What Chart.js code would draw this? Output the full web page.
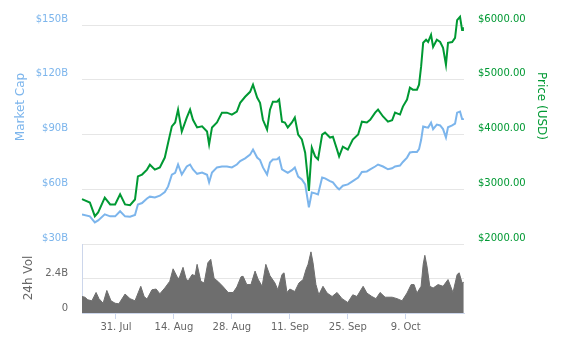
<!DOCTYPE html>
<html>
<head>
<meta charset="utf-8">
<script src="https://cdn.jsdelivr.net/npm/chart.js@4/dist/chart.umd.min.js"></script>
<style>
  html, body { margin: 0; padding: 0; background: #fff; }
  #wrap { width: 563px; height: 339px; position: relative; }
</style>
</head>
<body>
<div id="wrap"><canvas id="chart"></canvas></div>
<script>
// x values are days counted from 31 Jul
const tickDays = [0, 14, 28, 42, 56, 70];
const tickLabels = ['31. Jul', '14. Aug', '28. Aug', '11. Sep', '25. Sep', '9. Oct'];

// Price (USD) and market cap (billions) share these sample days
const lineDays = [
    -8.2, -6.3, -5.1, -4.3, -2.7, -1.4, -0.2, 1.0, 2.2, 3.4,
    4.6, 5.3, 6.3, 7.5, 8.2, 9.4, 10.6, 11.8, 12.6, 13.5,
    14.3, 15.0, 15.9, 17.1, 17.9, 18.6, 19.6, 20.8, 22.0, 22.5,
    23.2, 24.4, 25.6, 26.8, 28.0, 29.2, 30.0, 31.2, 32.4, 33.1,
    34.1, 34.8, 35.5, 36.5, 37.2, 37.9, 38.9, 39.4, 40.1, 40.8,
    41.5, 42.5, 43.2, 44.0, 44.9, 45.7, 46.4, 46.6, 47.3, 48.1,
    48.8, 49.8, 50.5, 51.7, 52.4, 53.4, 53.9, 54.8, 56.0, 57.2,
    58.5, 59.4, 60.6, 61.4, 62.6, 63.3, 64.5, 65.7, 66.7, 67.4,
    68.6, 69.3, 70.3, 71.0, 71.7, 72.7, 73.2, 73.7, 74.2, 74.9,
    75.4, 76.1, 76.6, 77.5, 78.3, 79.0, 79.7, 80.2, 81.2, 81.9,
    82.4, 83.1, 83.6, 83.8
];

const price = [
    2820, 2760, 2510, 2580, 2850, 2725, 2725, 2910, 2725, 2710,
    2815, 3235, 3270, 3360, 3450, 3360, 3400, 3580, 3850, 4150,
    4220, 4455, 4055, 4310, 4455, 4270, 4130, 4150, 4055, 3820,
    4130, 4220, 4400, 4400, 4365, 4420, 4580, 4690, 4780, 4910,
    4675, 4580, 4270, 4090, 4455, 4600, 4600, 4640, 4235, 4220,
    4130, 4220, 4310, 4000, 3910, 3670, 3150, 2970, 3760, 3600,
    3545, 4000, 4035, 3945, 3960, 3725, 3600, 3780, 3725, 3910,
    4000, 4235, 4220, 4270, 4400, 4455, 4330, 4235, 4260, 4400,
    4365, 4510, 4640, 4855, 4820, 4820, 4910, 5240, 5675, 5730,
    5690, 5820, 5600, 5730, 5690, 5585, 5275, 5675, 5690, 5765,
    6090, 6150, 5910, 5960
];

const marketCap = [
    46.3, 45.2, 41.9, 43.0, 46.3, 45.2, 45.2, 48.0, 45.2, 45.0,
    46.0, 51.7, 52.5, 55.0, 56.0, 55.5, 56.5, 58.5, 61.6, 68.0,
    69.0, 73.6, 68.1, 72.5, 73.6, 70.9, 68.5, 69.2, 68.0, 63.8,
    69.2, 72.0, 72.5, 72.5, 72.0, 73.6, 75.5, 77.0, 79.0, 81.8,
    77.4, 76.0, 72.0, 68.1, 74.7, 76.3, 76.5, 77.4, 70.9, 70.0,
    69.0, 70.5, 72.0, 67.0, 65.4, 62.7, 53.0, 50.1, 58.3, 57.8,
    57.2, 66.5, 66.0, 64.5, 63.8, 61.0, 60.0, 62.0, 62.7, 64.5,
    66.5, 69.5, 69.8, 70.9, 72.5, 73.6, 72.5, 71.0, 71.5, 72.5,
    73.0, 75.0, 77.4, 80.2, 80.5, 80.5, 82.0, 87.0, 94.4, 94.0,
    93.8, 96.5, 93.0, 95.5, 95.0, 93.0, 88.4, 94.0, 95.0, 96.0,
    102.0, 102.6, 98.5, 99.0
];

// 24h volume (billions)
const volDays = [
    -8.2, -7.5, -6.8, -5.8, -4.8, -4.1, -3.1, -2.2, -1.2, -0.2,
    0.7, 2.2, 3.4, 4.6, 6.0, 6.8, 7.5, 8.7, 9.7, 10.6,
    11.8, 13.0, 13.8, 14.7, 15.2, 16.2, 16.9, 17.4, 18.4, 19.1,
    19.6, 20.5, 21.3, 22.2, 22.9, 23.7, 24.6, 25.8, 27.1, 28.3,
    29.2, 30.2, 30.7, 31.6, 32.6, 33.6, 34.3, 35.3, 36.2, 37.2,
    38.4, 39.1, 40.1, 40.6, 41.3, 42.0, 43.2, 44.2, 45.2, 45.9,
    46.4, 47.1, 47.6, 48.3, 49.0, 50.0, 51.0, 52.2, 53.4, 54.6,
    56.0, 57.2, 58.2, 59.7, 60.6, 61.8, 62.8, 63.8, 65.0, 66.7,
    67.9, 69.1, 70.3, 71.3, 72.0, 72.7, 73.7, 74.2, 74.6, 75.1,
    75.8, 76.6, 77.8, 79.0, 80.2, 81.4, 82.4, 82.9, 83.6, 84.0
];

const volume = [
    1.15, 1.1, 0.92, 0.85, 1.43, 1.0, 0.68, 1.57, 0.85, 0.68,
    0.64, 1.32, 1.0, 0.85, 1.86, 1.15, 0.97, 1.62, 1.67, 1.34,
    1.74, 2.21, 3.08, 2.56, 2.37, 3.18, 2.42, 2.21, 2.68, 2.6,
    3.39, 2.21, 2.09, 3.5, 3.74, 2.42, 2.21, 1.86, 1.43, 1.43,
    1.81, 2.52, 2.56, 1.98, 1.98, 2.92, 2.37, 1.86, 3.39, 2.6,
    2.09, 1.62, 2.68, 2.8, 1.43, 1.67, 1.5, 2.09, 2.33, 3.03,
    3.39, 4.26, 3.5, 1.98, 1.27, 1.86, 1.39, 1.15, 1.43, 1.0,
    0.73, 1.27, 1.15, 1.86, 1.39, 1.15, 1.0, 1.43, 1.1, 1.1,
    1.0, 0.85, 1.39, 1.98, 1.98, 1.39, 1.86, 3.39, 4.02, 3.29,
    1.86, 1.74, 1.98, 1.86, 2.33, 1.43, 2.68, 2.8, 2.09, 2.14
];

const volTicks = [0, 2.4];
const volTickLabels = ['0', '2.4B'];

// Colours
const CAP_COLOR = '#7cb5ec';
const PRICE_COLOR = '#009933';
const VOL_COLOR = '#6e6e6e';
const GRID_COLOR = '#e6e6e6';
const AXIS_COLOR = '#ccd6eb';
const TEXT_GRAY = '#666666';
const FONT = '"DejaVu Sans", sans-serif';

Chart.defaults.font.family = FONT;
Chart.defaults.font.size = 10;

// Axis titles drawn by hand so they can sit where the original puts them
const sideTitles = {
    id: 'sideTitles',
    afterDraw(chart) {
        const ctx = chart.ctx;
        const draw = (text, x, y, angle, color) => {
            ctx.save();
            ctx.translate(x, y);
            ctx.rotate(angle);
            ctx.fillStyle = color;
            ctx.font = '12px ' + FONT;
            ctx.textAlign = 'center';
            ctx.textBaseline = 'middle';
            ctx.fillText(text, 0, 0);
            ctx.restore();
        };
        draw('Market Cap', 21, 107, -Math.PI / 2, CAP_COLOR);
        draw('Price (USD)', 541, 106, Math.PI / 2, PRICE_COLOR);
        draw('24h Vol', 29, 278, -Math.PI / 2, TEXT_GRAY);
    }
};

const fixWidth = w => scale => { scale.width = w; };

new Chart(document.getElementById('chart'), {
    type: 'line',
    data: {
        datasets: [
            {
                label: '24h Vol',
                data: volDays.map((d, i) => ({ x: d, y: volume[i] })),
                xAxisID: 'x',
                yAxisID: 'yVol',
                borderColor: VOL_COLOR,
                backgroundColor: VOL_COLOR,
                borderWidth: 1,
                fill: 'origin',
                pointRadius: 0
            },
            {
                label: 'Market Cap',
                data: lineDays.map((d, i) => ({ x: d, y: marketCap[i] })),
                xAxisID: 'x',
                yAxisID: 'yCap',
                borderColor: CAP_COLOR,
                borderWidth: 2,
                fill: false,
                pointRadius: 0
            },
            {
                label: 'Price (USD)',
                data: lineDays.map((d, i) => ({ x: d, y: price[i] })),
                xAxisID: 'x',
                yAxisID: 'yPrice',
                borderColor: PRICE_COLOR,
                borderWidth: 2,
                fill: false,
                pointRadius: 0,
                // the last peak rises above the $6000 gridline
                clip: false
            }
        ]
    },
    options: {
        responsive: true,
        maintainAspectRatio: false,
        animation: false,
        devicePixelRatio: 1,
        layout: {
            padding: { top: 25, left: 0, right: 0, bottom: 0 }
        },
        plugins: {
            legend: { display: false },
            tooltip: { enabled: false }
        },
        scales: {
            x: {
                type: 'linear',
                position: 'bottom',
                min: -8.2,
                max: 84.06,
                afterBuildTicks: scale => {
                    scale.ticks = tickDays.map(v => ({ value: v }));
                },
                afterFit: scale => { scale.height = 26; },
                ticks: {
                    autoSkip: false,
                    maxRotation: 0,
                    padding: 2,
                    color: TEXT_GRAY,
                    callback: value => tickLabels[tickDays.indexOf(value)]
                },
                grid: {
                    drawOnChartArea: false,
                    drawTicks: true,
                    tickLength: 6,
                    color: AXIS_COLOR
                },
                border: { display: true, color: AXIS_COLOR }
            },
            yCap: {
                type: 'linear',
                position: 'left',
                stack: 'left',
                stackWeight: 219.5,
                weight: 2,
                min: 30,
                max: 150,
                afterFit: fixWidth(82),
                ticks: {
                    stepSize: 30,
                    padding: 14,
                    labelOffset: -6,
                    color: CAP_COLOR,
                    callback: v => '$' + v + 'B'
                },
                grid: { color: GRID_COLOR, drawTicks: false },
                border: { display: false }
            },
            yVol: {
                type: 'linear',
                position: 'left',
                stack: 'left',
                stackWeight: 69,
                weight: 1,
                min: 0,
                max: 4.8,
                afterFit: fixWidth(82),
                ticks: {
                    stepSize: 2.4,
                    padding: 14,
                    labelOffset: -5,
                    color: TEXT_GRAY,
                    callback: v => {
                        const i = volTicks.indexOf(Math.round(v * 10) / 10);
                        return i >= 0 ? volTickLabels[i] : '';
                    }
                },
                grid: { color: GRID_COLOR, drawTicks: false },
                border: { display: true, color: AXIS_COLOR }
            },
            yPrice: {
                type: 'linear',
                position: 'right',
                stack: 'right',
                stackWeight: 219.5,
                weight: 1,
                min: 2000,
                max: 6000,
                afterFit: fixWidth(99),
                ticks: {
                    stepSize: 1000,
                    padding: 14,
                    labelOffset: -6,
                    color: PRICE_COLOR,
                    callback: v => '$' + v.toFixed(2)
                },
                grid: { display: false, drawTicks: false },
                border: { display: false }
            },
            yVolRight: {
                type: 'linear',
                position: 'right',
                stack: 'right',
                stackWeight: 69,
                weight: 2,
                afterFit: fixWidth(99),
                ticks: { display: false },
                grid: { display: false, drawTicks: false },
                border: { display: false }
            }
        }
    },
    plugins: [sideTitles]
});
</script>
</body>
</html>
